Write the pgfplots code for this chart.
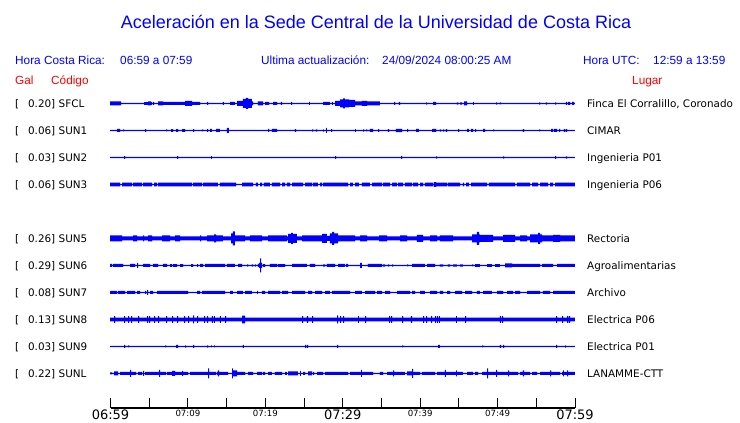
\documentclass[border=0pt]{standalone}
\usepackage{fontspec}
\setmainfont{DejaVu Sans}
\newfontfamily\arial{Liberation Sans}
\usepackage{pgfplots}
\pgfplotsset{compat=1.18}
\usepackage{pgfplotstable}
\definecolor{tblue}{RGB}{0,0,255}
\definecolor{tred}{RGB}{255,0,0}

% Each table: px = horizontal position on the 740 px chart, h = half amplitude (px), held until next row
\pgfplotstableread{
px h
110 2
121 0.6
144 1.3
148 2
151 1.3
152 0.6
153 1.5
154 0.6
158 2
163 1.5
185 2.5
192 1.5
200 0.6
207 1.5
208 0.6
223 1.5
224 0.6
230 1.5
235 0.6
237 2.5
243 4.5
246 5.5
248 4.5
252 2
253 0.6
258 2
263 0.6
265 1.5
269 0.6
273 1.5
277 0.6
281 1.5
282 0.6
291 1.5
292 0.6
309 1.5
310 0.6
323 1.5
330 0.6
332 1.5
333 0.6
335 2.5
340 4
343 5
345 4
349 3.5
355 2
362 2.5
367 2
380 0.6
394 1.5
395 0.6
399 1.5
400 0.6
426 1.2
427 0.6
433 1.5
436 0.6
457 1.2
458 0.6
460 1.2
462 0.6
464 2
467 0.6
473 1.5
474 0.6
496 1.2
497 0.6
500 1
501 0.6
539 1.2
540 0.6
546 1.2
547 0.6
555 1.2
556 0.6
566 1.5
567 0.6
568 1.5
570 0.6
572 1.5
574 0.6
575 0.6
}\sfcl

\pgfplotstableread{
px h
110 0.7
117 1.5
120 0.7
123 1
124 0.7
145 1.3
146 0.7
166 1
167 0.7
171 1.3
173 0.7
176 1.3
178 0.7
182 1.3
185 0.7
193 1.3
194 0.7
202 1
203 0.7
207 1.3
208 0.7
210 1.5
212 0.7
216 1.5
220 0.7
227 2.5
229 0.7
268 1.5
269 0.7
272 1.5
277 0.7
295 1.3
296 0.7
312 1.2
313 0.7
316 1.2
317 0.7
323 1.2
324 0.7
326 2.5
327 0.7
331 1.3
332 0.7
355 1.3
356 0.7
363 1.2
364 0.7
366 1
367 0.7
370 1.5
373 0.7
378 1.3
379 0.7
388 1.3
389 0.7
396 1.6
402 0.7
407 1.3
408 0.7
416 1.5
419 0.7
432 1.3
433 1.5
436 0.7
440 1.2
441 0.7
443 1.2
444 0.7
446 1.3
447 0.7
458 1.3
459 0.7
467 1.5
469 0.7
471 1.5
473 0.7
475 1.3
476 0.7
483 1.5
485 0.7
493 1
494 0.7
523 1.3
524 0.7
539 1
540 0.7
551 1.5
553 0.7
554 1.5
557 0.7
559 1.5
560 0.7
564 1.3
565 0.7
566 1.3
567 0.7
575 0.7
}\sunone

\pgfplotstableread{
px h
110 0.6
124 1.3
125 0.6
177 1.3
178 0.6
211 1.3
212 0.6
335 1.3
336 0.6
401 1.5
402 0.6
436 1.2
437 0.6
503 1.2
504 0.6
555 1.5
556 0.6
566 1.2
567 0.6
575 0.6
}\suntwo

\pgfplotstableread{
px h
110 1.8
120 0.6
122 1.8
132 0.6
133 1.8
142 0.6
143 1.8
152 0.6
154 1.8
157 0.6
158 1.8
192 0.6
193 1.8
202 0.6
203 1.8
218 0.6
220 1.8
236 0.6
242 1.8
253 0.6
256 1.8
258 0.6
260 1.8
262 0.6
264 1.8
270 0.6
272 1.8
280 0.6
282 1.8
285 0.6
287 1.8
290 0.6
292 1.8
303 0.6
305 1.8
312 0.6
313 1.8
318 0.6
320 1.8
322 0.6
323 1.8
348 0.6
350 1.8
353 0.6
355 1.8
359 0.6
362 1.8
370 0.6
372 1.8
382 0.6
383 1.8
390 0.6
392 1.8
397 0.6
398 1.8
403 0.6
405 1.8
412 0.6
413 1.8
418 0.6
420 1.8
423 0.6
425 1.8
433 0.6
434 2.3
436 1.8
447 0.6
448 1.8
460 0.6
463 1.8
464 0.6
466 1.8
469 0.6
471 1.8
487 0.6
489 1.8
515 0.6
517 1.8
530 0.6
532 1.8
538 0.6
540 1.8
548 0.6
550 1.8
553 0.6
555 1.8
575 1.8
}\sunthree

\pgfplotstableread{
px h
110 3
122 2
133 3
137 2
143 3
144 2
148 3
152 2
162 3
170 2
175 3
180 2
200 3
201 2
207 3
214 4
216 3
223 2
231 5
233 7
235 3
245 2
250 3
262 2
268 3
287 2
288 4.5
291 5.5
293 4.5
297 2
302 3
322 4.5
327 2.5
330 5
332 6.5
334 5
338 3
355 2
360 3
367 2
379 3
387 2
400 3
407 2
417 3.5
423 2
430 3
437 2
440 3
453 2
472 4
477 6.5
479 4
480 3.5
493 2
503 3.5
515 2
520 3
527 2
530 4
538 5.5
540 4
542 3
553 3.5
560 3
575 3
}\sunfive

\pgfplotstableread{
px h
110 1.5
112 0.6
113 1.5
123 0.6
130 1.5
135 0.6
137 2.5
138 0.6
143 1.5
150 0.6
153 1.5
158 0.6
163 1.5
167 0.6
170 1.3
172 0.6
173 1.3
177 0.6
180 1.3
183 0.6
191 1.3
193 0.6
197 1.3
198 0.6
200 1.5
203 0.6
205 1.5
225 0.6
227 1.5
235 0.6
238 1.5
242 0.6
247 1.2
248 0.6
252 1.2
253 0.6
255 1.2
256 0.6
258 1.5
259 2.5
260 7
261 2.5
262 0.6
263 1.3
265 0.6
270 1.5
277 0.6
278 1.3
285 0.6
292 1.5
307 0.6
310 1.5
315 0.6
323 1.2
325 0.6
327 1.5
335 0.6
338 1.5
345 0.6
346 1.5
348 0.6
360 2.5
362 0.6
368 1.5
382 0.6
383 1.2
385 0.6
388 1.2
389 0.6
392 1.2
393 0.6
407 1
408 0.6
412 1.5
425 0.6
427 1.5
435 0.6
440 1.2
443 0.6
448 1.2
450 0.6
453 1.2
457 0.6
460 1.2
463 0.6
472 1
473 0.6
475 1.3
480 0.6
487 1.3
492 0.6
495 1.3
500 0.6
505 2
512 1.5
540 0.6
542 1.5
553 0.6
557 1.5
575 1.5
}\sunsix

\pgfplotstableread{
px h
110 1.5
117 0.6
118 1.5
125 0.6
127 1.5
135 0.6
137 1.5
140 0.6
145 1.5
146 0.6
147 2.5
148 0.6
150 1.5
153 0.6
157 1.5
188 0.6
197 1.5
200 0.6
202 1.5
225 0.6
230 1.5
233 0.6
237 1.5
243 0.6
245 1.5
252 0.6
257 1.5
258 0.6
262 1.5
265 0.6
268 1.5
280 0.6
282 1.5
288 0.6
292 1.5
305 0.6
308 1.5
312 0.6
315 1.5
322 0.6
325 1.5
330 0.6
332 1.5
350 0.6
355 1.5
362 0.6
365 1.5
375 0.6
377 1.5
382 0.6
385 1.5
390 0.6
397 1.5
410 0.6
412 1.5
415 0.6
420 1.5
425 0.6
430 1.5
437 0.6
440 1.5
443 0.6
447 1.5
450 0.6
455 1.5
462 0.6
465 1.5
472 0.6
477 1.5
480 0.6
483 1.5
492 0.6
497 1.5
503 0.6
507 1.5
513 0.6
515 1.5
520 0.6
527 1.5
540 0.6
543 1.5
550 0.6
553 1.5
575 1.5
}\sunseven

\pgfplotstableread{
px h
110 1.9
114 3.3
115 1.9
124 3.3
125 1.9
128 3.3
129 1.9
131 3.3
132 1.9
138 3.3
139 1.9
147 3.3
148 1.9
149 3.3
150 1.9
154 3.3
155 1.9
158 3.3
159 1.9
166 3.3
167 1.9
172 3.3
173 1.9
177 3.3
178 1.9
184 3.3
185 1.9
188 3.3
189 1.9
193 4
194 1.9
197 3.3
198 1.9
204 3.3
205 1.9
207 3.3
208 1.9
212 3.3
213 1.9
214 3.3
215 1.9
220 3.3
221 1.9
225 3.3
226 1.9
242 3.8
245 1.9
302 3.3
303 1.9
307 3.3
308 1.9
312 3.3
313 1.9
337 4
338 1.9
340 3.3
341 1.9
343 3.3
344 1.9
358 3.3
359 1.9
365 3.3
366 1.9
389 3.3
390 1.9
391 3.3
392 1.9
402 3.3
403 1.9
411 3.3
412 1.9
423 3.3
424 1.9
426 3.3
427 1.9
431 3.3
432 1.9
435 3.3
436 1.9
437 3.3
438 1.9
439 3.3
440 1.9
456 3.3
457 1.9
465 3.3
466 1.9
500 3.3
501 1.9
502 3.3
503 1.9
556 3.3
557 1.9
562 3.3
563 1.9
567 3.3
568 1.9
569 3.3
570 1.9
575 1.9
}\suneight

\pgfplotstableread{
px h
110 0.6
124 1.5
125 0.6
128 1
129 0.6
165 1
166 0.6
176 1.5
178 0.6
185 1.2
186 0.6
193 1.5
194 0.6
207 1.2
208 0.6
211 1
212 0.6
214 1
215 0.6
243 1.5
244 0.6
305 1.5
306 0.6
307 1.5
308 0.6
337 1.5
338 0.6
402 1
403 0.6
438 1.5
440 0.6
482 1
483 0.6
500 1.5
501 0.6
503 1.5
504 0.6
556 1.5
557 0.6
565 1.2
566 0.6
575 0.6
}\sunnine

\pgfplotstableread{
px h
110 1
112 0.6
114 2
118 0.6
120 1.5
130 3.5
131 1.5
136 0.6
138 1.5
142 0.6
143 2.5
144 0.6
145 1.5
159 3.5
160 1.5
166 0.6
167 1.5
172 2.5
175 1.5
182 2.5
183 1.5
188 0.6
190 1.5
208 5
209 1.5
216 0.6
217 1.5
218 3
219 1.5
228 0.6
232 5
233 3
237 1.5
245 0.6
248 1.5
253 0.6
257 1.5
262 0.6
263 1.5
265 0.6
268 1.5
272 0.6
275 1.5
282 0.6
285 1.5
287 0.6
288 2
298 0.6
300 2.5
301 0.6
303 1.5
305 0.6
308 2
312 0.6
313 1.5
314 0.6
317 1.5
323 0.6
325 1.5
348 0.6
350 1.5
361 3.5
362 1.5
373 0.6
380 1.5
383 0.6
387 1.5
393 3
394 1.5
405 0.6
407 2
412 4.5
413 1.5
420 0.6
422 1.5
435 0.6
437 1.5
445 3.5
446 1.5
456 3
457 1.5
463 0.6
467 1.5
473 0.6
475 1.5
478 0.6
482 1.5
487 5
488 1.5
496 3.5
497 1.5
508 3
509 1.5
518 0.6
520 1.5
523 3
524 1.5
530 0.6
532 1.5
537 0.6
540 1.5
550 3
551 1.5
560 0.6
562 1.5
563 3
564 1.5
567 3
568 1.5
575 1.5
}\sunL

\pgfplotsset{
  traceax/.style={
    at={(110.5bp,15bp)}, anchor=south west,
    scale only axis, width=464.5bp, height=408bp,
    xmin=0, xmax=60, ymin=15, ymax=423,
    stack plots=y, clip=false,
  },
}

% one overlaid axis per trace: lower edge (base - h), then band of height 2h filled
\newcommand{\trace}[3]{%
  \begin{axis}[traceax,#3]
  \addplot[draw=none, const plot] table[x expr={(\thisrow{px}-110.5)/7.7417}, y expr={#1-\thisrow{h}}] {#2};
  \addplot[draw=none, fill=tblue, const plot] table[x expr={(\thisrow{px}-110.5)/7.7417}, y expr={2*\thisrow{h}}] {#2} \closedcycle;
  \end{axis}%
}

\newcommand{\stn}[4]{%
  \node[anchor=base west, inner sep=0pt] at (15bp,#1) {[};
  \node[anchor=base east, inner sep=0pt] at (55.5bp,#1) {#2]};
  \node[anchor=base west, inner sep=0pt] at (58.5bp,#1) {#3};
  \node[anchor=base west, inner sep=0pt] at (587bp,#1) {#4};
}

\begin{document}
\begin{tikzpicture}
\useasboundingbox[fill=white] (0bp,0bp) rectangle (740bp,423bp);
\trace{319.5}{\sfcl}{hide axis}
\trace{292.5}{\sunone}{hide axis}
\trace{265.5}{\suntwo}{hide axis}
\trace{238.5}{\sunthree}{hide axis}
\trace{184.5}{\sunfive}{hide axis}
\trace{157.5}{\sunsix}{hide axis}
\trace{130.5}{\sunseven}{hide axis}
\trace{103.5}{\suneight}{hide axis}
\trace{76.5}{\sunnine}{hide axis}
\trace{49.5}{\sunL}{%
  axis x line*=bottom, hide y axis,
  xtick={0,5,...,60},
  xticklabels={{\fontsize{13bp}{13bp}\selectfont 06:59},{},{\fontsize{8.6bp}{9bp}\selectfont 07:09},{},{\fontsize{8.6bp}{9bp}\selectfont 07:19},{},{\fontsize{13bp}{13bp}\selectfont 07:29},{},{\fontsize{8.6bp}{9bp}\selectfont 07:39},{},{\fontsize{8.6bp}{9bp}\selectfont 07:49},{},{\fontsize{13bp}{13bp}\selectfont 07:59}},
  xtick align=inside, major tick length=10bp,
  tick style={black, line width=1bp},
  axis line style={black, line width=1.3bp},
  xticklabel style={anchor=north, inner sep=0pt, yshift=-2bp, text=black}}

% title and header
\node[anchor=base, inner sep=0pt, text=tblue, font=\arial\fontsize{18bp}{20bp}\selectfont] at (376bp,394.5bp) {Aceleración en la Sede Central de la Universidad de Costa Rica};
\begin{scope}[every node/.style={anchor=base west, inner sep=0pt, text=tblue, font=\arial\fontsize{11.8bp}{13bp}\selectfont}]
\node at (15bp,358.5bp) {Hora Costa Rica:};
\node at (120bp,358.5bp) {06:59 a 07:59};
\node at (261bp,358.5bp) {Ultima actualización:};
\node at (382bp,358.5bp) {24/09/2024 08:00:25 AM};
\node at (583bp,358.5bp) {Hora UTC:};
\node at (653bp,358.5bp) {12:59 a 13:59};
\end{scope}
\begin{scope}[every node/.style={anchor=base west, inner sep=0pt, text=tred, font=\arial\fontsize{11.8bp}{13bp}\selectfont}]
\node at (15bp,338.5bp) {Gal};
\node at (51bp,338.5bp) {Código};
\node at (632bp,338.5bp) {Lugar};
\end{scope}
\begin{scope}[every node/.style={font=\fontsize{10.4bp}{12bp}\selectfont}]
\stn{315.7bp}{0.20}{SFCL}{Finca El Corralillo, Coronado}
\stn{288.7bp}{0.06}{SUN1}{CIMAR}
\stn{261.7bp}{0.03}{SUN2}{Ingenieria P01}
\stn{234.7bp}{0.06}{SUN3}{Ingenieria P06}
\stn{180.7bp}{0.26}{SUN5}{Rectoria}
\stn{153.7bp}{0.29}{SUN6}{Agroalimentarias}
\stn{126.7bp}{0.08}{SUN7}{Archivo}
\stn{99.7bp}{0.13}{SUN8}{Electrica P06}
\stn{72.7bp}{0.03}{SUN9}{Electrica P01}
\stn{45.7bp}{0.22}{SUNL}{LANAMME-CTT}
\end{scope}
\end{tikzpicture}
\end{document}
